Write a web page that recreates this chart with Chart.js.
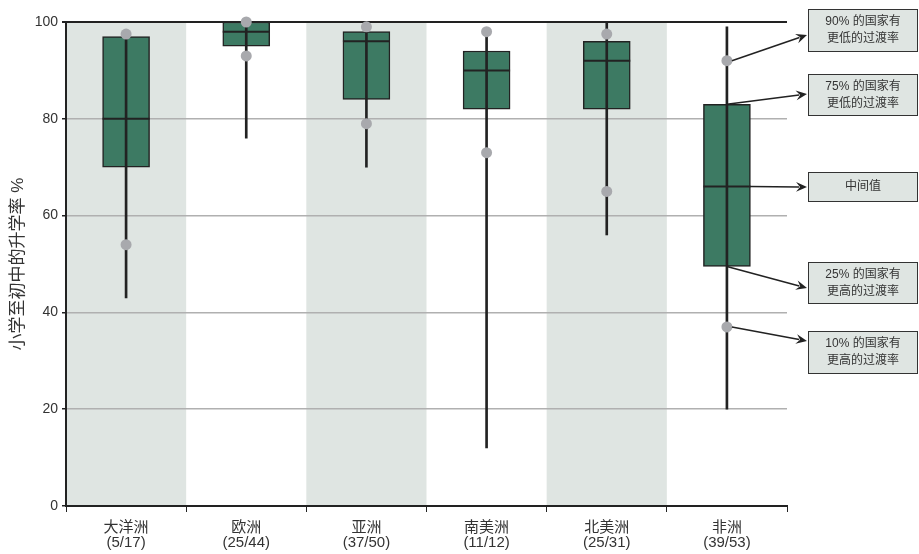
<!DOCTYPE html>
<html>
<head>
<meta charset="utf-8">
<script src="https://cdn.jsdelivr.net/npm/chart.js@4"></script>
<style>
  html, body { margin: 0; padding: 0; background: #fff; }
  #wrap { width: 919px; height: 554px; }
</style>
</head>
<body>
<div id="wrap"><canvas id="boxChart" width="919" height="554"></canvas></div>
<script>
// 各大洲名称与国家数
const regions = ['大洋洲', '欧洲', '亚洲', '南美洲', '北美洲', '非洲'];
const counts = ['(5/17)', '(25/44)', '(37/50)', '(11/12)', '(25/31)', '(39/53)'];

// 箱线图数值 (%)
const minVals = [43, 76, 70, 12, 56, 20];
const maxVals = [97.5, 100, 99, 98, 100, 99];
const q1Vals = [70, 95, 84, 82, 82, 49.5];
const medianVals = [80, 98, 96, 90, 92, 66];
const q3Vals = [97, 100, 98, 94, 96, 83];
const p10Vals = [54, 93, 79, 73, 65, 37];
const p90Vals = [97.5, 100, 99, 98, 97.5, 92];

const yTicks = [0, 20, 40, 60, 80, 100];

// 右侧说明
const noteLines = [
    ['90% 的国家有', '更低的过渡率'],
    ['75% 的国家有', '更低的过渡率'],
    ['中间值'],
    ['25% 的国家有', '更高的过渡率'],
    ['10% 的国家有', '更高的过渡率']
];

const FONT = '"Liberation Sans", "Noto Sans CJK SC", sans-serif';
const ink = '#222';
const textInk = '#333';

const bandPlugin = {
    id: 'bands',
    beforeDraw(chart) {
        const { ctx, chartArea, scales } = chart;
        const step = chartArea.width / regions.length;
        ctx.save();
        ctx.fillStyle = '#dfe5e2';
        regions.forEach((r, i) => {
            if (i % 2 === 0) {
                const cx = scales.x.getPixelForValue(i);
                ctx.fillRect(cx - step / 2, chartArea.top, step, chartArea.bottom - chartArea.top);
            }
        });
        ctx.restore();
    }
};

const notePlugin = {
    id: 'notes',
    afterDraw(chart) {
        const { ctx, scales } = chart;
        const last = regions.length - 1;
        const cx = scales.x.getPixelForValue(last);
        const y = v => scales.y.getPixelForValue(v);
        const boxX = 808, boxW = 110;
        const boxes = [
            { top: 9, h: 43, tipY: 35, from: [cx + 5, y(p90Vals[last])] },
            { top: 74, h: 42, tipY: 94, from: [cx, y(q3Vals[last])] },
            { top: 172, h: 30, tipY: 187, from: [cx + 23, y(medianVals[last])] },
            { top: 262, h: 42, tipY: 288, from: [cx, y(q1Vals[last])] },
            { top: 331, h: 43, tipY: 341, from: [cx + 5, y(p10Vals[last])] }
        ];
        ctx.save();
        boxes.forEach((b, i) => {
            ctx.fillStyle = '#dfe5e2';
            ctx.fillRect(boxX, b.top, boxW, b.h);
            ctx.strokeStyle = '#333';
            ctx.lineWidth = 1;
            ctx.strokeRect(boxX + 0.5, b.top + 0.5, boxW - 1, b.h - 1);

            ctx.fillStyle = textInk;
            ctx.font = '12px ' + FONT;
            ctx.textAlign = 'center';
            ctx.textBaseline = 'middle';
            const lines = noteLines[i];
            const mid = b.top + b.h / 2;
            lines.forEach((t, k) => {
                ctx.fillText(t, boxX + boxW / 2, mid + (k - (lines.length - 1) / 2) * 17);
            });

            // 箭头
            const tipX = boxX - 1;
            const [fx, fy] = b.from;
            const ang = Math.atan2(b.tipY - fy, tipX - fx);
            ctx.strokeStyle = ink;
            ctx.lineWidth = 1.6;
            ctx.beginPath();
            ctx.moveTo(fx, fy);
            ctx.lineTo(tipX - 8 * Math.cos(ang), b.tipY - 8 * Math.sin(ang));
            ctx.stroke();
            ctx.fillStyle = ink;
            ctx.beginPath();
            ctx.moveTo(tipX, b.tipY);
            ctx.lineTo(tipX - 12 * Math.cos(ang - 0.42), b.tipY - 12 * Math.sin(ang - 0.42));
            ctx.lineTo(tipX - 7 * Math.cos(ang), b.tipY - 7 * Math.sin(ang));
            ctx.lineTo(tipX - 12 * Math.cos(ang + 0.42), b.tipY - 12 * Math.sin(ang + 0.42));
            ctx.closePath();
            ctx.fill();
        });
        ctx.restore();
    }
};

const ctx = document.getElementById('boxChart').getContext('2d');
new Chart(ctx, {
    type: 'bar',
    data: {
        labels: regions.map((r, i) => [r, counts[i]]),
        datasets: [
            {
                label: 'box',
                data: q1Vals.map((v, i) => [v, q3Vals[i]]),
                backgroundColor: '#3d7a63',
                borderColor: ink,
                borderWidth: 1.5,
                borderSkipped: false,
                barThickness: 47,
                grouped: false,
                order: 4
            },
            {
                label: 'whisker',
                data: minVals.map((v, i) => [v, maxVals[i]]),
                backgroundColor: ink,
                borderWidth: 0,
                barThickness: 2,
                grouped: false,
                order: 3
            },
            {
                type: 'line',
                label: 'median',
                data: medianVals,
                showLine: false,
                pointStyle: 'line',
                pointRadius: 23.5,
                pointHoverRadius: 23.5,
                pointBorderWidth: 2,
                pointBorderColor: ink,
                clip: false,
                order: 2
            },
            {
                type: 'line',
                label: 'p90',
                data: p90Vals,
                showLine: false,
                pointRadius: 5.5,
                pointBackgroundColor: '#a8a9ad',
                pointBorderWidth: 0,
                clip: false,
                order: 1
            },
            {
                type: 'line',
                label: 'p10',
                data: p10Vals,
                showLine: false,
                pointRadius: 5.5,
                pointBackgroundColor: '#a8a9ad',
                pointBorderWidth: 0,
                clip: false,
                order: 1
            }
        ]
    },
    options: {
        responsive: false,
        animation: false,
        layout: {
            autoPadding: false,
            padding: { top: 22, right: 132, left: 0, bottom: 0 }
        },
        plugins: {
            legend: { display: false },
            tooltip: { enabled: false }
        },
        scales: {
            x: {
                offset: true,
                afterFit: scale => {
                    scale.height = 48;
                    scale.paddingLeft = 0;
                    scale.paddingRight = 0;
                },
                grid: {
                    offset: true,
                    drawOnChartArea: false,
                    tickLength: 6,
                    tickColor: ink
                },
                border: { color: ink, width: 2 },
                ticks: {
                    color: textInk,
                    font: { size: 15, family: FONT, lineHeight: 1.0 },
                    padding: 8
                }
            },
            y: {
                min: 0,
                max: 100,
                afterBuildTicks: axis => {
                    axis.ticks = yTicks.map(v => ({ value: v }));
                },
                afterFit: scale => {
                    scale.width = 66;
                    scale.paddingTop = 0;
                    scale.paddingBottom = 0;
                },
                grid: {
                    color: c => (c.tick && c.tick.value === 100) ? ink : '#b0b0b0',
                    lineWidth: c => (c.tick && c.tick.value === 100) ? 2 : 1.5,
                    tickLength: 4,
                    tickColor: ink
                },
                border: { color: ink, width: 2 },
                ticks: {
                    color: textInk,
                    font: { size: 14, family: FONT },
                    padding: 4
                },
                title: {
                    display: true,
                    text: '小学至初中的升学率 %',
                    color: textInk,
                    font: { size: 17, family: FONT },
                    padding: { top: 8, bottom: 4 }
                }
            }
        }
    },
    plugins: [bandPlugin, notePlugin]
});
</script>
</body>
</html>
